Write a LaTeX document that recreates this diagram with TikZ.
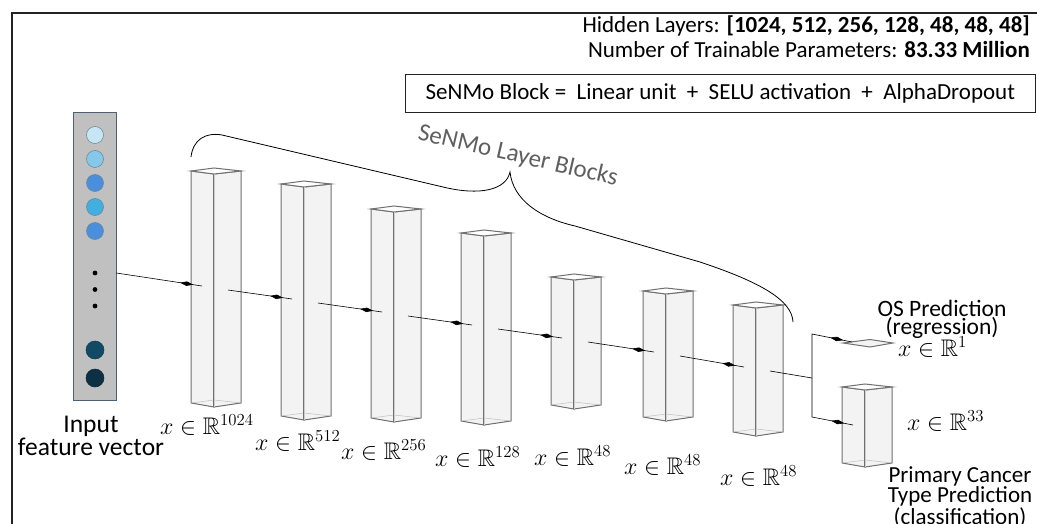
\documentclass[tikz,border=0pt]{standalone}
\usepackage{fix-cm}
\usepackage{amssymb}
\usepackage{fontspec}
\setmainfont{Carlito}
\usetikzlibrary{arrows.meta, positioning, calc, decorations.markings}
\definecolor{framegray}{RGB}{35, 35, 35}
\definecolor{pillarline}{RGB}{112, 112, 112}
\definecolor{pillarfill}{RGB}{243, 243, 243}
\definecolor{vecbox}{RGB}{192, 192, 192}
\definecolor{vecedge}{RGB}{78, 96, 112}
\definecolor{bracegray}{RGB}{95, 95, 95}
\definecolor{nodeA}{RGB}{198, 230, 245}
\definecolor{nodeB}{RGB}{133, 200, 234}
\definecolor{nodeC}{RGB}{74, 143, 219}
\definecolor{nodeD}{RGB}{65, 176, 224}
\definecolor{nodeE}{RGB}{18, 74, 102}
\definecolor{nodeF}{RGB}{13, 48, 69}
\tikzset{
    flow/.style={draw, black, line width=0.6pt, postaction={decorate},
        decoration={markings, mark=at position -9pt with {\arrow{Kite[length=13pt, width=4.5pt, inset=6.5pt]}}}},
    face/.style={draw=pillarline, line width=1pt, fill=pillarfill},
    neuron/.style={circle, draw=vecedge!80, line width=0.5pt, minimum size=#1, inner sep=0pt},
    txt/.style={font=\fontsize{23}{27}\selectfont},
    dimlabel/.style={font=\fontsize{24}{28}\selectfont, anchor=base west, inner sep=0pt}
}

\begin{document}
\begin{tikzpicture}[x=1pt, y=-1pt]
    \useasboundingbox (0,0) rectangle (1037,524);
    % Define macro to draw one layer block as a see-through prism
    \def\pillar#1#2#3#4#5{
        \begin{scope}[shift={(#2,0)}]
            \draw[face] (0,#3) -- (23,#3+3) -- (23,#4+4) -- (0,#4) -- cycle;
            \draw[face] (23,#3+3) -- (50,#3) -- (50,#4) -- (23,#4+4) -- cycle;
            \draw[pillarline!45, line width=0.5pt] (23,#3-3) -- (23,#4-3);
            \draw[pillarline!45, line width=0.5pt] (0,#4) -- (23,#4-3) -- (50,#4);
            \draw[face, fill=white] (0,#3) -- (23,#3-3) -- (50,#3) -- (23,#3+3) -- cycle;
            % front edge drawn as a doubled line
            \draw[pillarline, line width=2.6pt] (23,#3+3) -- (23,#4+4);
            \draw[pillarline!35, line width=0.7pt] (23,#3+3) -- (23,#4+4);
            \coordinate (#1-in) at (11,#5);
            \coordinate (#1-out) at (37,#5+4);
        \end{scope}
    }

    % Frame
    \draw[framegray, line width=1.3pt] (12,524) -- (12,13) -- (1037,13);

    % Header texts
    \node[txt, anchor=base east, inner sep=0pt] (hidden) at (1030,33)
        {Hidden Layers: \textbf{[1024, 512, 256, 128, 48, 48, 48]}};
    \node[txt, anchor=base east, inner sep=0pt] (params) at (1030,58)
        {Number of Trainable Parameters: \textbf{83.33 Million}};
    \node[txt, draw=framegray, line width=0.8pt, anchor=north west, minimum width=630pt,
        minimum height=38pt, inner sep=0pt] (blockdef) at (405,74)
        {SeNMo Block =\ \ Linear unit\ \ +\ \ SELU activation\ \ +\ \ AlphaDropout};

    % Input feature vector
    \node[rectangle, draw=vecedge, line width=0.8pt, fill=vecbox, minimum width=43pt,
        minimum height=288pt, inner sep=0pt] (invec) at (94.5,256) {};
    \foreach \c [count=\i] in {nodeA, nodeB, nodeC, nodeD, nodeC} {
        \node[neuron=17pt, fill=\c] (n\i) at (95,111+24*\i) {};
    }
    \foreach \i in {0,1,2} {
        \fill (95,273+16.5*\i) circle (2.4pt);
    }
    \node[neuron=18pt, fill=nodeE, draw=nodeE!80!black] (n6) at (95,350) {};
    \node[neuron=18pt, fill=nodeF, draw=nodeF!80!black] (n7) at (95,378) {};
    \node[txt, align=center, anchor=north, inner sep=0pt, font=\fontsize{25.5}{23}\selectfont] (inlabel) at (91,416)
        {Input\\feature vector};
    \coordinate (vec-out) at ([yshift=-17pt]invec.east);

    % Layer blocks
    \foreach \n/\x/\t/\b/\y in {1/191/171/403/286, 2/281/184/416/299, 3/371/209/418/312,
        4/461/233/421/325, 5/551/277/405/338, 6/643/291/417/352, 7/733/305/432/367} {
        \pillar{p\n}{\x}{\t}{\b}{\y}
    }
    \foreach \a/\b in {vec/p1, p1/p2, p2/p3, p3/p4, p4/p5, p5/p6, p6/p7} {
        \draw[flow] (\a-out) -- (\b-in);
    }

    % Dimension labels
    \node[dimlabel] (d1) at (160,434) {$x \in \mathbb{R}^{1024}$};
    \node[dimlabel] (d2) at (255,450) {$x \in \mathbb{R}^{512}$};
    \node[dimlabel] (d3) at (341,459) {$x \in \mathbb{R}^{256}$};
    \node[dimlabel] (d4) at (435,466) {$x \in \mathbb{R}^{128}$};
    \node[dimlabel] (d5) at (534,465) {$x \in \mathbb{R}^{48}$};
    \node[dimlabel] (d6) at (624,474) {$x \in \mathbb{R}^{48}$};
    \node[dimlabel] (d7) at (720,485) {$x \in \mathbb{R}^{48}$};

    % Brace over the layer blocks
    \draw[black, line width=0.8pt] (191,157) .. controls (193,140) and (205,132) .. (222,135)
        -- (443,187) .. controls (480,196) and (506,190) .. (510,172)
        .. controls (513,200) and (540,218) .. (575,226)
        -- (700,262) .. controls (760,282) and (792,300) .. (793,322);
    \node[rotate=-13, text=bracegray, font=\fontsize{25}{30}\selectfont] (blocklabel) at (518,156)
        {SeNMo Layer Blocks};

    % Output heads
    \coordinate (split) at (812,378);
    \coordinate (osbend) at (812,334);
    \coordinate (clbend) at (812,417);
    \coordinate (os-in) at (852,342);
    \draw[black, line width=0.6pt] (p7-out) -- (split);
    \draw[face] (843,343) -- (870,339.5) -- (893,343) -- (870,347) -- cycle;
    \draw[flow] (split) -- (osbend) -- (os-in);
    \pillar{pC}{842}{387}{463}{425}
    \draw[flow] (split) -- (clbend) -- (pC-in);

    \node[txt, align=center, anchor=north, inner sep=0pt, font=\fontsize{23.5}{18}\selectfont] (oslabel) at (942,300)
        {OS Prediction\\(regression)};
    \node[dimlabel] (d8) at (898,356) {$x \in \mathbb{R}^{1}$};
    \node[dimlabel] (d9) at (907,430) {$x \in \mathbb{R}^{33}$};
    \node[txt, align=center, anchor=north, inner sep=0pt, font=\fontsize{23}{18}\selectfont] (cllabel) at (960,466)
        {Primary Cancer\\Type Prediction\\(classification)};
\end{tikzpicture}
\end{document}
